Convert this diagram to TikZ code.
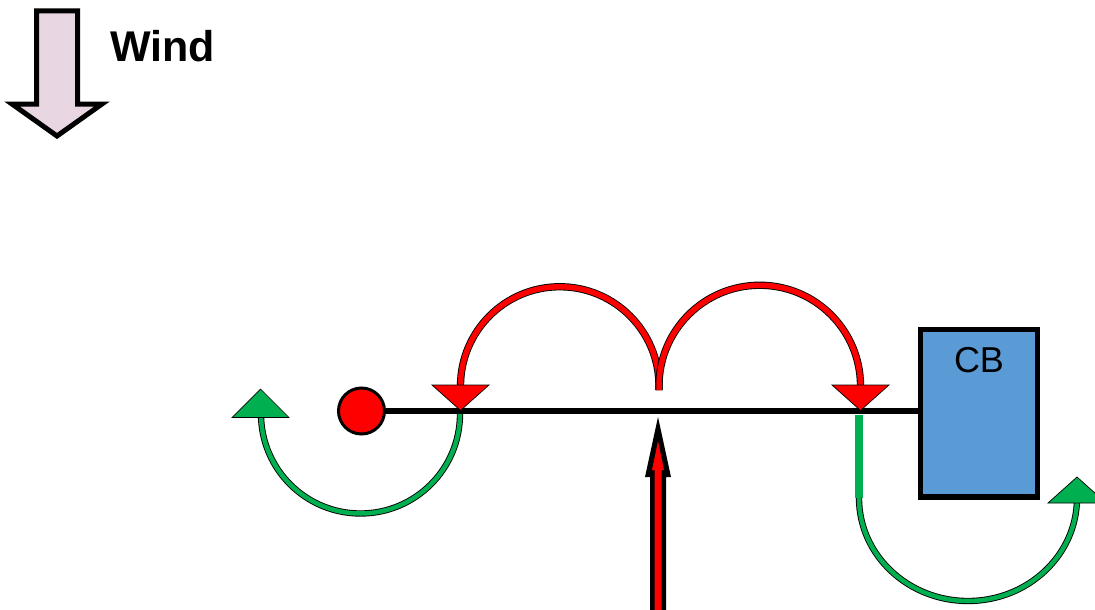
\documentclass[tikz,border=0pt]{standalone}
\usepackage{fontspec}
\setmainfont{Liberation Sans}
\definecolor{grn}{RGB}{0,176,80}
\definecolor{cbblue}{RGB}{91,155,213}
\definecolor{windpink}{RGB}{232,214,226}
\begin{document}
\begin{tikzpicture}[x=1pt,y=-1pt,
  redline/.style={draw=black,line width=0.9pt,double=red,double distance=5.5pt},
  greenline/.style={draw=black,line width=0.9pt,double=grn,double distance=4.5pt},
  redhead/.style={fill=red,draw=black,line width=0.7pt,line join=miter},
  greenhead/.style={fill=grn,draw=black,line width=0.7pt,line join=miter},
  windarrow/.style={fill=windpink,draw=black,line width=5pt,line join=miter},
  beam/.style={draw=black,line width=5.5pt}]
\useasboundingbox (0,0) rectangle (1095,610);

% wind
\draw[windarrow] (36.5,11) -- (77.5,11) -- (77.5,104) -- (102,104) -- (57,136) -- (12,104) -- (36.5,104) -- cycle;
\node[font=\bfseries\fontsize{43}{43}\selectfont, anchor=base west, inner sep=0] (wind) at (110,62) {Wind};

% nodes
\node[circle, fill=red, draw=black, line width=3pt, minimum size=46pt, inner sep=0] (dot) at (361.5,411) {};
\node[rectangle, fill=cbblue, draw=black, line width=5.5pt, minimum width=117pt, minimum height=167.5pt, inner sep=0] (cb) at (979,413) {};
\node[font=\fontsize{36}{36}\selectfont, anchor=base, inner sep=0] (cblabel) at (979,372) {CB};

% beam
\draw[beam] (dot) -- (dot -| cb.west);

% red arcs
\coordinate (rL) at (460.5,386);
\coordinate (rM) at (659,390);
\coordinate (rR) at (860.5,386);
\draw[redline] (rL) arc[start angle=180,end angle=360,radius=99.25] -- (rM);
\draw[redline] (rM) -- ++(0,-4) arc[start angle=180,end angle=360,radius=100.75] -- (rR);
\filldraw[redhead] (432,385) -- (489,385) -- (460.5,410.5) -- cycle;
\filldraw[redhead] (832,385) -- (889,385) -- (860.5,410.5) -- cycle;

% green left
\coordinate (gL) at (460,414);
\coordinate (gLend) at (261,418);
\draw[greenline] (gL) arc[start angle=0,end angle=180,radius=99.5] -- (gLend);
\filldraw[greenhead] (232,417.5) -- (289,417.5) -- (260.5,389) -- cycle;

% green right
\coordinate (gR) at (859,415);
\coordinate (gR2) at (859,498);
\coordinate (gRend) at (1077,504);
\draw[grn, line width=7.5pt] (gR) -- (gR2);
\draw[greenline] (gR2) arc[start angle=180,end angle=0,x radius=109,y radius=103] -- (gRend);
\filldraw[greenhead] (1048,503) -- (1106,503) -- (1077,477) -- cycle;

% force arrow
\coordinate (force) at (658,417);
\fill[black] (650,612) -- (650,477) -- (645,477) -- (force) -- (671,477) -- (666,477) -- (666,612) -- cycle;
\fill[red] (654.5,612) -- (654.5,470) -- (652,470) -- (658,441) -- (664,470) -- (661.5,470) -- (661.5,612) -- cycle;
\end{tikzpicture}
\end{document}
